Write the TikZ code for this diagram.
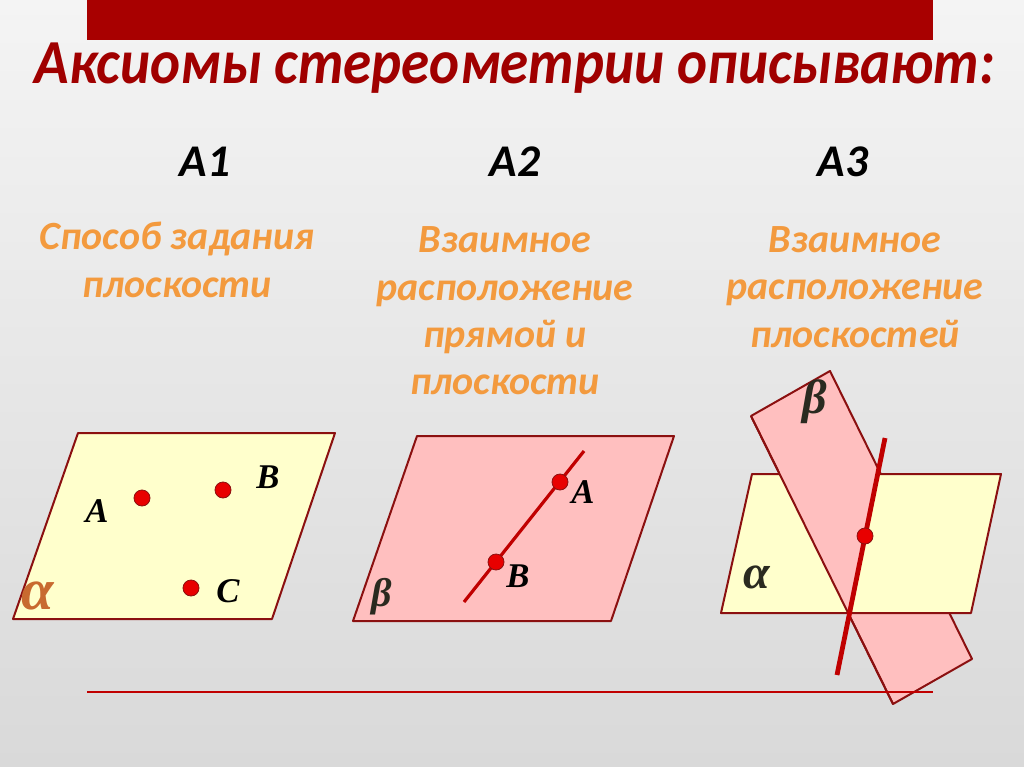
\documentclass[tikz,border=0pt]{standalone}
\usepackage{fontspec}
\setmainfont{Carlito}
\newfontfamily\timesfont{Liberation Serif}
\usetikzlibrary{positioning}
\definecolor{bgtop}{HTML}{F4F4F4}
\definecolor{bgbottom}{HTML}{D9D9D9}
\definecolor{barred}{HTML}{A80000}
\definecolor{titlered}{HTML}{A00000}
\definecolor{axorange}{HTML}{F39A3E}
\definecolor{planeyellow}{HTML}{FFFFCC}
\definecolor{planepink}{HTML}{FFBFBF}
\definecolor{edgered}{HTML}{8B1010}
\definecolor{dotred}{HTML}{E80000}
\definecolor{linered}{HTML}{C00000}
\definecolor{alphabrown}{HTML}{C86A30}
\definecolor{greekdark}{HTML}{2A2A20}
\begin{document}
\begin{tikzpicture}[x=0.75pt,y=-0.75pt,
    plane/.style={draw=edgered,line width=1.5pt,line join=round},
    dot/.style={circle,draw=edgered,fill=dotred,line width=0.6pt,inner sep=0pt,minimum size=12pt},
    ptlabel/.style={font=\timesfont\bfseries\itshape\fontsize{26}{26}\selectfont},
    greek/.style={font=\timesfont\bfseries\itshape\fontsize{36}{36}\selectfont},
    axiom/.style={font=\bfseries\itshape\fontsize{34}{34}\selectfont},
    about/.style={font=\bfseries\itshape\fontsize{30}{35.5}\selectfont,text=axorange,align=center}]
  \fill[top color=bgtop,bottom color=bgbottom] (0,0) rectangle (1024,767);
  \useasboundingbox (0,0) rectangle (1024,767);
  \fill[barred] (87,0) rectangle (933,40);
  \node[font=\bfseries\itshape\fontsize{47}{47}\selectfont,text=titlered] (title) at (515,68)
    {\scalebox{0.91}[1]{Аксиомы стереометрии описывают:}};
  \draw
    (205,162) node[axiom] (ax1) {A1}
    (515,162) node[axiom] (ax2) {A2}
    (843,162) node[axiom] (ax3) {A3};
  \node[about] (about1) at (177,260) {Способ задания\\плоскости};
  \node[about] (about2) at (505,311) {Взаимное\\расположение\\прямой и\\плоскости};
  \node[about] (about3) at (855,287) {Взаимное\\расположение\\плоскостей};
  % A1
  \coordinate (p1a) at (78,433);
  \coordinate (p1b) at (335,433);
  \coordinate (p1c) at (272,619);
  \coordinate (p1d) at (13,619);
  \draw[plane,fill=planeyellow] (p1a) -- (p1b) -- (p1c) -- (p1d) -- cycle;
  \node[dot] (ptA) at (142,498) {};
  \node[dot] (ptB) at (223,490) {};
  \node[dot] (ptC) at (191,588) {};
  \node[ptlabel] (labA) at (97,511) {A};
  \node[ptlabel] (labB) at (268,477) {B};
  \node[ptlabel] (labC) at (228,591) {C};
  \node[greek,text=alphabrown,font=\timesfont\bfseries\itshape\fontsize{44}{44}\selectfont] (alpha1) at (38,596) {α};
  % A2
  \coordinate (p2a) at (417,436);
  \coordinate (p2b) at (674,436);
  \coordinate (p2c) at (611,621);
  \coordinate (p2d) at (353,621);
  \draw[plane,fill=planepink] (p2a) -- (p2b) -- (p2c) -- (p2d) -- cycle;
  \coordinate (l2s) at (464,602);
  \coordinate (l2e) at (584,451);
  \draw[linered,line width=2.4pt] (l2s) -- (l2e);
  \node[dot] (ptA2) at (560,482) {};
  \node[dot] (ptB2) at (496,562) {};
  \node[ptlabel] (labA2) at (583,492) {A};
  \node[ptlabel] (labB2) at (518,576) {B};
  \node[greek,text=greekdark,font=\timesfont\bfseries\itshape\fontsize{30}{30}\selectfont] (beta2) at (382,597) {β};
  % A3
  \coordinate (b3a) at (830,371);
  \coordinate (b3b) at (972,659);
  \coordinate (b3c) at (893,704);
  \coordinate (b3d) at (751,416);
  \coordinate (a3a) at (752,474);
  \coordinate (a3b) at (1001,474);
  \coordinate (a3c) at (971,613);
  \coordinate (a3d) at (721,613);
  \draw[plane,fill=planepink] (b3a) -- (b3b) -- (b3c) -- (b3d) -- cycle;
  \draw[plane,fill=planeyellow] (a3a) -- (a3b) -- (a3c) -- (a3d) -- cycle;
  \fill[planepink] (778.6,472) -- (879.8,472) -- (848.1,613) -- cycle;
  \draw[plane] (b3d) -- (b3c);
  \coordinate (l3s) at (837,675);
  \coordinate (l3e) at (885,438);
  \draw[linered,line width=3.6pt] (l3s) -- (l3e);
  \node[dot] (ptM) at (865,536) {};
  \node[greek,text=greekdark] (beta3) at (815,402) {β};
  \node[greek,text=greekdark] (alpha3) at (757,577) {α};
  \coordinate (rule1) at (87,692);
  \coordinate (rule2) at (933,692);
  \draw[linered,line width=1.5pt] (rule1) -- (rule2);
\end{tikzpicture}
\end{document}
